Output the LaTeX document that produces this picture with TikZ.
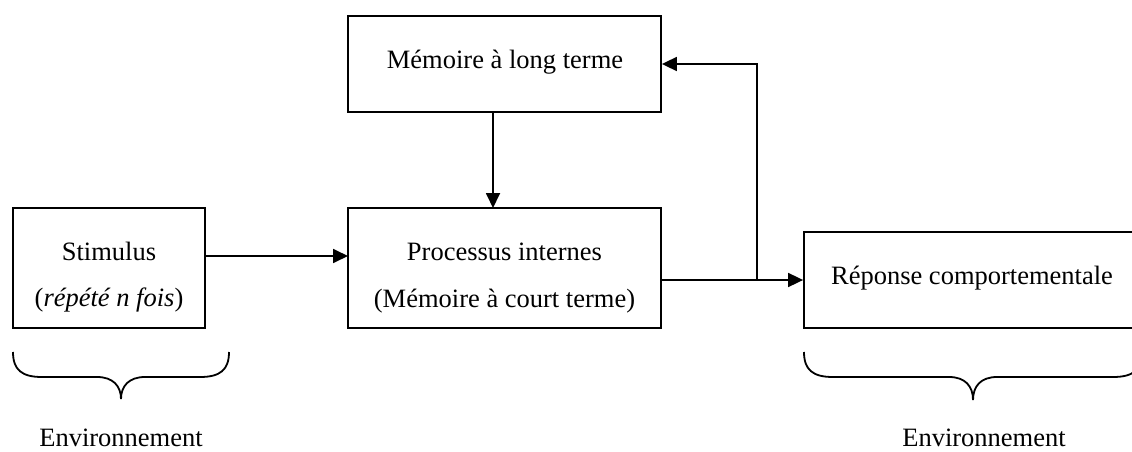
\documentclass[tikz,border=0pt]{standalone}
\usepackage{fontspec}
\setmainfont{Liberation Serif}
\usetikzlibrary{arrows.meta}
\begin{document}
\begin{tikzpicture}[x=1pt,y=-1pt,
  box/.style={draw,line width=1.8pt,rectangle,inner sep=0pt},
  txt/.style={inner sep=0pt,anchor=base,font=\fontsize{26.5}{32}\selectfont},
  arr/.style={line width=1.8pt,-{Triangle[length=15pt,width=14pt]}},
  brc/.style={line width=1.8pt}]
\useasboundingbox (0,0) rectangle (1132,452);
\clip (0,0) rectangle (1132,452);
% boxes
\node[box,minimum width=192pt,minimum height=120pt] (stim) at (109,268) {};
\node[box,minimum width=313pt,minimum height=120pt] (proc) at (504.5,268) {};
\node[box,minimum width=313pt,minimum height=96pt] (mlt) at (504.5,64) {};
\node[box,minimum width=338pt,minimum height=96pt] (resp) at (973,280) {};
% texts
\node[txt] (t1) at (109,260) {Stimulus};
\node[txt] (t2) at (109,306) {(\textit{répété n fois})};
\node[txt] (t3) at (504.5,260) {Processus internes};
\node[txt] (t4) at (504.5,307) {(Mémoire à court terme)};
\node[txt] (t5) at (505,68) {Mémoire à long terme};
\node[txt] (t6) at (972,284) {Réponse comportementale};
\node[txt] (e1) at (121,446) {Environnement};
\node[txt] (e2) at (984,446) {Environnement};
% connectors
\coordinate (s1) at (205,256);
\coordinate (p1) at (348,256);
\draw[arr] (s1) -- (p1);
\coordinate (m1) at (493,112);
\coordinate (p2) at (493,208);
\draw[arr] (m1) -- (p2);
\coordinate (po) at (661,280);
\coordinate (br) at (757,280);
\draw[arr] (po) -- (resp.west);
\draw[arr] (br) |- (mlt.east);
% braces
\draw[brc] (13,352) .. controls (13,370) and (22,377) .. (42,377) -- (97,377)
  .. controls (113,377) and (121,386) .. (121,399)
  .. controls (121,386) and (129,377) .. (145,377) -- (200,377)
  .. controls (220,377) and (229,370) .. (229,352);
\draw[brc] (804,352) .. controls (804,370) and (813,377) .. (833,377) -- (949,377)
  .. controls (965,377) and (973,386) .. (973,400)
  .. controls (973,386) and (981,377) .. (997,377) -- (1113,377)
  .. controls (1133,377) and (1142,370) .. (1142,352);
\end{tikzpicture}
\end{document}
